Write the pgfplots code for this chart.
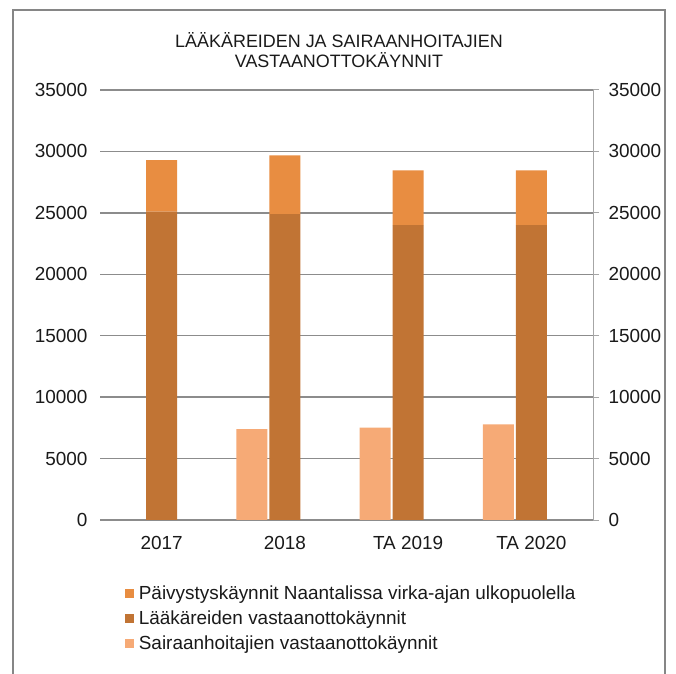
\documentclass[border=0pt]{standalone}
\usepackage{fontspec}
\setmainfont{Liberation Sans}
\usepackage{pgfplots}
\pgfplotsset{compat=1.18}
\definecolor{cTop}{HTML}{E88D41}
\definecolor{cDoc}{HTML}{C17434}
\definecolor{cNur}{HTML}{F6AA76}
\definecolor{cGrid}{HTML}{8C8C8C}
\definecolor{cAx}{HTML}{A6A6A6}
\definecolor{cFrame}{HTML}{868686}
\definecolor{cText}{HTML}{1A1A1A}
\pgfplotsset{
  chartbase/.style={
    at={(100bp,154bp)}, anchor=south west,
    scale only axis, width=493bp, height=430bp,
    xmin=0.5, xmax=4.5, ymin=0, ymax=35000,
    enlargelimits=false,
    ytick={0,5000,...,35000},
    scaled y ticks=false,
    /pgf/number format/1000 sep={},
    /pgf/number format/assume math mode=true,
    tick label style={font=\fontsize{19}{21}\selectfont, text=cText},
    bar width=31bp,
  },
  sq legend/.style={legend image code/.code={\fill[##1] (0bp,-4.5bp) rectangle (9bp,4.5bp);}},
}
\begin{document}
\begin{tikzpicture}
\useasboundingbox (0,0) rectangle (676bp,674bp);
\fill[white] (0,0) rectangle (676bp,674bp);
\draw[cFrame, line width=2bp] (13bp,0) -- (13bp,664bp) -- (665bp,664bp) -- (665bp,0);
\node[font=\fontsize{18}{20}\selectfont, align=center, text=cText] at (339bp,624bp)
  {LÄÄKÄREIDEN JA SAIRAANHOITAJIEN\\VASTAANOTTOKÄYNNIT};
% --- left axis: nurses' visits, shifted left of the category centre ---
\begin{axis}[
  chartbase,
  axis x line*=bottom, axis y line*=left,
  y axis line style={draw=none},
  x axis line style={cGrid, line width=1.5bp},
  xtick={1,2,3,4}, xticklabels={2017,2018,TA 2019,TA 2020},
  xticklabel style={yshift=-13bp},
  yticklabel style={xshift=-9bp},
  major tick length=0pt,
  ymajorgrids, grid style={cGrid, line width=1.5bp},
  ybar, bar shift=-33bp,
]
\addplot[fill=cNur, draw=none] coordinates {(2,7400) (3,7520) (4,7790)};
\end{axis}
% --- right axis: doctors' visits + on-call visits, stacked ---
\begin{axis}[
  chartbase,
  axis x line=none, axis y line*=right,
  y axis line style={cAx, line width=1bp},
  ytick style={cAx, line width=1bp},
  major tick length=6bp, tick align=outside,
  yticklabel style={xshift=6bp},
  ybar stacked,
  reverse legend,
  legend cell align=left,
  legend style={at={(axis description cs:0.05,-0.148)}, anchor=north west,
    draw=none, fill=none, inner sep=0pt, row sep=6bp,
    font=\fontsize{19}{21}\selectfont, text=cText,
    nodes={inner sep=2bp},
    /tikz/every odd column/.append style={column sep=3bp}},
]
\addlegendimage{sq legend, fill=cNur, draw=none}
\addplot[sq legend, fill=cDoc, draw=none] coordinates {(1,25100) (2,24900) (3,24000) (4,24000)};
\addplot[sq legend, fill=cTop, draw=none] coordinates {(1,4200) (2,4780) (3,4460) (4,4460)};
\legend{Sairaanhoitajien vastaanottokäynnit,Lääkäreiden vastaanottokäynnit,Päivystyskäynnit Naantalissa virka-ajan ulkopuolella}
\end{axis}
\end{tikzpicture}
\end{document}
